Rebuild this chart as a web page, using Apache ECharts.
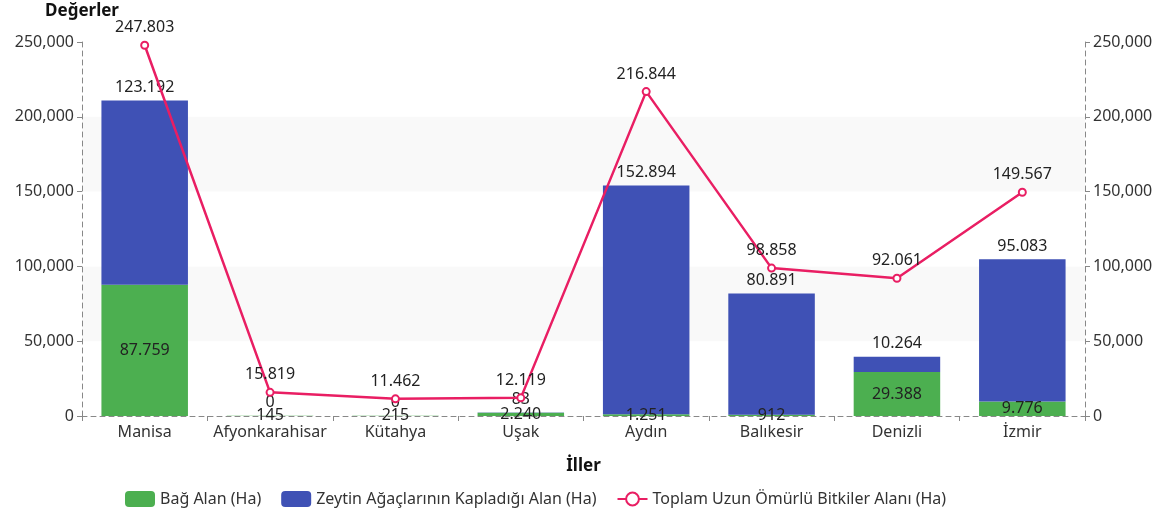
<!DOCTYPE html>
<html>
<head>
    <meta charset="utf-8">
    <title>Uzun Ömürlü Bitkiler</title>
    <script src="https://cdn.jsdelivr.net/npm/echarts@6/dist/echarts.min.js"></script>
    <style>
        html, body { margin: 0; padding: 0; background: #fff; }
        #chart1 { width: 1175px; height: 518px; }
    </style>
</head>
<body>
<div id="chart1"></div>
<script type="text/javascript">
    // veriler
    var iller = ['Manisa', 'Afyonkarahisar', 'Kütahya', 'Uşak', 'Aydın', 'Balıkesir', 'Denizli', 'İzmir'];
    var bagAlan = [87759, 145, 215, 2240, 1251, 912, 29388, 9776];
    var zeytinAlan = [123192, 0, 0, 83, 152894, 80891, 10264, 95083];
    var toplamAlan = [247803, 15819, 11462, 12119, 216844, 98858, 92061, 149567];

    var fontAile = '"Noto Sans", "DejaVu Sans", sans-serif';

    // 12345 -> 12.345
    function noktali(p) {
        return String(p.value).replace(/\B(?=(\d{3})+(?!\d))/g, '.');
    }

    var eksenCizgi = { show: true, lineStyle: { color: '#888', type: [5, 4] } };

    var myChart1 = echarts.init(document.getElementById('chart1'));
    myChart1.setOption({
        textStyle: { fontFamily: fontAile },
        grid: { left: 82, right: 90, top: 42, bottom: 102 },
        legend: {
            left: 120,
            bottom: 6,
            itemWidth: 30,
            itemHeight: 16,
            itemGap: 20,
            textStyle: { fontSize: 16, color: '#333' },
            data: ['Bağ Alan (Ha)', 'Zeytin Ağaçlarının Kapladığı Alan (Ha)', 'Toplam Uzun Ömürlü Bitkiler Alanı (Ha)']
        },
        xAxis: {
            type: 'category',
            data: iller,
            name: 'İller',
            nameLocation: 'middle',
            nameGap: 42,
            nameTextStyle: { fontWeight: 'bold', fontSize: 17, color: '#111' },
            axisLine: eksenCizgi,
            axisTick: { show: true, lineStyle: { color: '#888' } },
            axisLabel: { interval: 0, fontSize: 16, color: '#333' }
        },
        yAxis: [{
            type: 'value',
            min: 0,
            max: 250000,
            interval: 50000,
            name: 'Değerler',
            nameGap: 22,
            nameTextStyle: { fontWeight: 'bold', fontSize: 17, color: '#111', align: 'center' },
            axisLine: eksenCizgi,
            axisTick: { show: true, lineStyle: { color: '#888' } },
            axisLabel: { fontSize: 16, color: '#333' },
            splitLine: { show: false },
            splitArea: { show: true, areaStyle: { color: ['#ffffff', '#f9f9f9'] } }
        }, {
            type: 'value',
            min: 0,
            max: 250000,
            interval: 50000,
            position: 'right',
            axisLine: eksenCizgi,
            axisTick: { show: true, lineStyle: { color: '#888' } },
            axisLabel: { fontSize: 16, color: '#333' },
            splitLine: { show: false }
        }],
        series: [{
            name: 'Bağ Alan (Ha)',
            type: 'bar',
            stack: 'alan',
            barWidth: '69%',
            data: bagAlan,
            itemStyle: { color: '#4caf50' },
            label: { show: true, position: 'inside', fontSize: 16, color: '#222', formatter: noktali }
        }, {
            name: 'Zeytin Ağaçlarının Kapladığı Alan (Ha)',
            type: 'bar',
            stack: 'alan',
            data: zeytinAlan,
            itemStyle: { color: '#3f51b5' },
            label: { show: true, position: 'top', fontSize: 16, color: '#222', formatter: noktali }
        }, {
            name: 'Toplam Uzun Ömürlü Bitkiler Alanı (Ha)',
            type: 'line',
            yAxisIndex: 1,
            data: toplamAlan,
            symbol: 'emptyCircle',
            symbolSize: 7,
            lineStyle: { color: '#e91e63', width: 2.5 },
            itemStyle: { color: '#e91e63', borderWidth: 2 },
            label: { show: true, position: 'top', fontSize: 16, color: '#222', formatter: noktali }
        }]
    });
</script>
</body>
</html>
